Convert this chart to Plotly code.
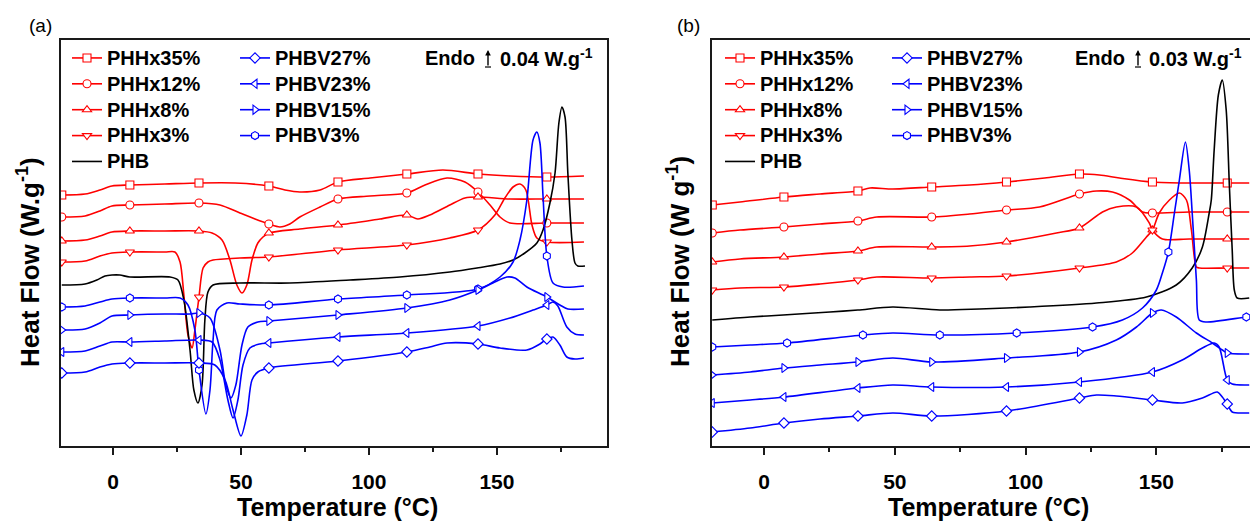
import plotly.graph_objects as go

# ---------------- Panel (a) data: temperature (°C) / heat flow (a.u., stacked, endo up) ----------------
A_MARKS = [-20, 6.6, 33.6, 60.9, 87.9, 114.8, 142.6, 169.5]

A_PHHX35_T = [-20, -10.9, -5.1, -0.4, 6.6, 20.3, 33.6, 47.7, 60.9, 67.2, 73.0, 80.9, 87.9, 100.4, 114.8, 128.9, 142.6, 155.1, 169.5, 184.0]
A_PHHX35_HF = [251, 252, 256, 260, 261, 262, 263, 263, 260, 256, 254, 256, 264, 268, 272, 276, 272, 270, 269, 270]

A_PHHX12_T = [-20, -10.9, -5.1, -0.4, 6.6, 20.3, 33.6, 41.8, 49.6, 55.5, 60.9, 65.2, 69.1, 73.0, 80.9, 87.9, 100.4, 114.8, 121.9, 130.5, 137.5, 142.6, 147.3, 151.2, 155.1, 169.5, 184.0]
A_PHHX12_HF = [229, 230, 235, 240, 241, 242, 243, 241, 233, 227, 222, 219, 222, 229, 239, 247, 250, 253, 261, 268, 264, 254, 241, 229, 223, 223, 223]

A_PHHX8_T = [-20, -10.9, -5.1, -0.4, 6.6, 20.3, 33.6, 38.7, 42.6, 45.7, 48.4, 50.4, 52.3, 54.3, 56.6, 58.6, 60.9, 73.0, 87.9, 104.3, 114.8, 119.1, 123.8, 131.6, 137.5, 142.6, 155.1, 169.5, 184.0]
A_PHHX8_HF = [205, 206, 210, 214, 215, 215, 215, 213, 206, 186, 161, 153, 161, 186, 203, 209, 213, 217, 221, 227, 231, 227, 231, 241, 248, 249, 247, 247, 247]

A_PHHX3_T = [-20, -10.9, -5.1, -0.4, 6.6, 20.3, 24.2, 26.2, 27.7, 29.3, 30.9, 32.0, 33.6, 35.2, 37.1, 39.1, 49.6, 60.9, 87.9, 114.8, 131.6, 142.6, 149.2, 153.1, 156.3, 159.0, 161.3, 163.7, 165.6, 169.5, 184.0]
A_PHHX3_HF = [184, 185, 190, 193, 194, 194, 194, 184, 151, 111, 98, 116, 149, 178, 184, 186, 188, 189, 196, 201, 208, 216, 231, 248, 259, 262, 256, 221, 208, 204, 204]

A_PHB_T = [-20, -10.9, -6.3, -3.1, -0.4, 2.7, 6.6, 22.3, 25.4, 27.7, 30.1, 31.6, 33.2, 34.8, 35.9, 37.1, 39.1, 49.6, 69.1, 92.6, 112.1, 131.6, 142.2, 151.2, 156.3, 160.9, 165.6, 168.0, 170.7, 172.7, 174.2, 175.4, 176.6, 177.7, 179.3, 180.5, 181.6, 184.4]
A_PHB_HF = [161, 162, 166, 170, 171, 171, 169, 169, 166, 146, 96, 56, 43, 61, 126, 154, 161, 163, 163, 166, 169, 174, 178, 182, 186, 193, 203, 216, 243, 273, 323, 339, 329, 273, 206, 183, 180, 180]

A_PHBV3_T = [-20, -10.9, -5.1, -0.4, 6.6, 20.3, 26.2, 29.3, 32.0, 33.6, 36.3, 37.9, 39.1, 40.6, 44.5, 49.6, 60.9, 87.9, 114.8, 142.6, 151.2, 156.3, 159.0, 161.7, 164.1, 165.6, 166.8, 168.0, 169.5, 171.9, 175.8, 184.0]
A_PHBV3_HF = [139, 140, 144, 147, 148, 148, 148, 141, 116, 76, 32, 56, 106, 136, 143, 142, 141, 147, 151, 157, 169, 184, 206, 246, 306, 314, 303, 250, 190, 163, 159, 160]

A_PHBV15_T = [-20, -10.9, -5.1, -0.4, 6.6, 20.3, 30.1, 33.6, 37.9, 41.8, 44.1, 46.1, 48.0, 50.4, 52.7, 56.6, 60.9, 87.9, 114.8, 131.6, 142.6, 148.4, 153.9, 157.0, 161.7, 169.5, 174.6, 177.7, 184.0]
A_PHBV15_HF = [116, 117, 123, 130, 131, 132, 132, 133, 128, 96, 61, 48, 61, 101, 119, 124, 125, 131, 138, 146, 156, 163, 169, 168, 159, 149, 141, 137, 137]

A_PHBV23_T = [-20, -10.9, -5.1, -0.4, 6.6, 20.3, 33.6, 38.7, 41.8, 44.9, 46.9, 48.8, 50.8, 53.5, 57.4, 60.9, 87.9, 114.8, 142.6, 155.1, 164.1, 169.5, 171.9, 173.8, 177.3, 180.5, 184.0]
A_PHBV23_HF = [94, 95, 100, 104, 104, 105, 106, 104, 86, 46, 28, 46, 81, 98, 102, 103, 109, 113, 120, 128, 136, 141, 144, 140, 119, 112, 111]

A_PHBV27_T = [-20, -10.9, -5.1, -0.4, 6.6, 20.3, 33.6, 39.8, 43.8, 46.9, 50.0, 52.3, 54.3, 56.6, 60.9, 87.9, 114.8, 123.8, 130.5, 142.6, 151.2, 161.7, 166.8, 169.5, 171.9, 174.6, 177.3, 180.5, 184.0]
A_PHBV27_HF = [73, 74, 79, 82, 83, 83, 83, 81, 66, 36, 10, 31, 66, 74, 78, 85, 94, 99, 103, 102, 98, 96, 102, 107, 109, 101, 89, 87, 88]

# ---------------- Panel (b) data ----------------
B_MARKS = [-19.8, 7.6, 35.9, 64.1, 92.7, 120.6, 148.5, 177.1]
B_MARKS_PHBV3 = [-19.8, 8.8, 37.8, 67.2, 96.6, 125.6, 154.6, 184.4]

B_PHHX35_T = [-19.8, -9.2, 7.6, 21.4, 35.9, 40.5, 49.2, 64.1, 78.6, 92.7, 107.3, 120.6, 128.2, 135.9, 148.5, 162.6, 177.1, 185.5]
B_PHHX35_HF = [241, 244, 249, 252, 255, 258, 257, 259, 261, 264, 268, 272, 271, 268, 264, 263, 263, 263]

B_PHHX12_T = [-19.8, -9.2, 7.6, 21.4, 35.9, 43.1, 64.1, 78.6, 92.7, 105.3, 120.6, 127.1, 133.2, 139.7, 144.7, 148.5, 162.6, 177.1, 185.5]
B_PHHX12_HF = [213, 216, 219, 222, 225, 229, 229, 232, 236, 239, 252, 255, 254, 246, 234, 233, 234, 234, 234]

B_PHHX8_T = [-19.8, -9.2, 7.6, 21.4, 35.9, 43.1, 64.1, 78.6, 92.7, 111.8, 120.6, 129.4, 134.7, 142.4, 147.3, 148.5, 152.3, 162.6, 177.1, 185.5]
B_PHHX8_HF = [184, 187, 189, 192, 195, 199, 199, 200, 204, 213, 218, 234, 239, 239, 223, 216, 207, 207, 207, 207]

B_PHHX3_T = [-19.8, -9.2, 7.6, 21.4, 35.9, 43.1, 64.1, 78.6, 92.7, 120.6, 134.7, 140.8, 146.2, 148.5, 151.1, 155.0, 158.8, 161.5, 163.4, 165.3, 166.4, 177.1, 185.5]
B_PHHX3_HF = [156, 158, 159, 162, 166, 169, 168, 169, 170, 178, 184, 193, 209, 216, 233, 246, 253, 246, 216, 179, 178, 178, 178]

B_PHB_T = [-19.8, -5.3, 7.3, 25.2, 35.9, 49.2, 67.2, 82.4, 101.5, 127.1, 146.2, 157.6, 163.7, 167.6, 170.2, 171.0, 172.1, 173.7, 175.2, 176.7, 177.9, 179.0, 179.8, 180.9, 185.5]
B_PHB_HF = [126, 129, 131, 134, 136, 139, 136, 137, 139, 143, 149, 161, 178, 199, 233, 246, 296, 351, 366, 336, 261, 196, 156, 148, 148]

B_PHBV3_T = [-19.8, -5.3, 8.8, 37.8, 49.2, 67.2, 96.6, 125.6, 137.0, 144.7, 150.0, 152.3, 154.6, 156.9, 158.8, 161.1, 162.6, 163.7, 165.3, 166.4, 169.1, 184.4, 185.5]
B_PHBV3_HF = [99, 101, 103, 111, 113, 111, 113, 119, 126, 138, 156, 173, 194, 233, 266, 304, 275, 233, 166, 126, 124, 129, 129]

B_PHBV15_T = [-19.8, -5.3, 7.6, 21.4, 35.9, 49.2, 64.1, 92.7, 120.6, 134.7, 142.4, 148.5, 151.9, 157.6, 165.3, 171.4, 175.2, 177.1, 184.4, 185.5]
B_PHBV15_HF = [71, 74, 78, 81, 84, 88, 84, 88, 94, 106, 119, 133, 136, 129, 113, 103, 96, 93, 92, 92]

B_PHBV23_T = [-19.8, -5.3, 7.6, 35.9, 49.2, 64.1, 92.7, 120.6, 148.5, 159.9, 167.6, 172.1, 174.0, 177.1, 179.0, 184.4, 185.5]
B_PHBV23_HF = [43, 46, 49, 58, 61, 59, 59, 64, 74, 86, 98, 103, 99, 66, 62, 61, 61]

B_PHBV27_T = [-19.8, -5.3, 7.6, 21.4, 35.9, 49.2, 64.1, 92.7, 120.6, 127.1, 134.7, 148.5, 159.9, 167.6, 173.3, 175.2, 177.1, 179.0, 184.4, 185.5]
B_PHBV27_HF = [14, 18, 23, 27, 30, 33, 30, 35, 48, 51, 50, 46, 43, 48, 54, 49, 42, 34, 33, 33]

# legend labels
PHHX_NAMES = ["PHHx35%", "PHHx12%", "PHHx8%", "PHHx3%", "PHB"]
PHBV_NAMES = ["PHBV27%", "PHBV23%", "PHBV15%", "PHBV3%"]
X_TICKS = [0, 50, 100, 150]

RED = "#FF0000"
BLUE = "#0000FF"
BLACK = "#000000"
FONT = "Liberation Sans, Arial, sans-serif"

STYLE = {
    "PHHx35%": (RED, "square"),
    "PHHx12%": (RED, "circle"),
    "PHHx8%": (RED, "triangle-up"),
    "PHHx3%": (RED, "triangle-down"),
    "PHB": (BLACK, None),
    "PHBV27%": (BLUE, "diamond"),
    "PHBV23%": (BLUE, "triangle-left"),
    "PHBV15%": (BLUE, "triangle-right"),
    "PHBV3%": (BLUE, "hexagon"),
}

fig = go.Figure()


def add_curve(name, T, HF, marks, xa, ya):
    color, symbol = STYLE[name]
    fig.add_trace(go.Scatter(
        x=T, y=HF, mode="lines", xaxis=xa, yaxis=ya, showlegend=False,
        line=dict(color=color, width=1.6, shape="spline", smoothing=0.8),
        hoverinfo="skip"))
    if symbol and marks:
        mk = set(marks)
        mx = [t for t in T if t in mk]
        my = [h for t, h in zip(T, HF) if t in mk]
        fig.add_trace(go.Scatter(
            x=mx, y=my, mode="markers", xaxis=xa, yaxis=ya, showlegend=False,
            marker=dict(symbol=symbol, size=8, color="white",
                        line=dict(color=color, width=1.1)),
            hoverinfo="skip"))


panel_a = [
    ("PHHx35%", A_PHHX35_T, A_PHHX35_HF, A_MARKS),
    ("PHHx12%", A_PHHX12_T, A_PHHX12_HF, A_MARKS),
    ("PHHx8%", A_PHHX8_T, A_PHHX8_HF, A_MARKS),
    ("PHHx3%", A_PHHX3_T, A_PHHX3_HF, A_MARKS),
    ("PHB", A_PHB_T, A_PHB_HF, None),
    ("PHBV3%", A_PHBV3_T, A_PHBV3_HF, A_MARKS),
    ("PHBV15%", A_PHBV15_T, A_PHBV15_HF, A_MARKS),
    ("PHBV23%", A_PHBV23_T, A_PHBV23_HF, A_MARKS),
    ("PHBV27%", A_PHBV27_T, A_PHBV27_HF, A_MARKS),
]
panel_b = [
    ("PHHx35%", B_PHHX35_T, B_PHHX35_HF, B_MARKS),
    ("PHHx12%", B_PHHX12_T, B_PHHX12_HF, B_MARKS),
    ("PHHx8%", B_PHHX8_T, B_PHHX8_HF, B_MARKS),
    ("PHHx3%", B_PHHX3_T, B_PHHX3_HF, B_MARKS),
    ("PHB", B_PHB_T, B_PHB_HF, None),
    ("PHBV3%", B_PHBV3_T, B_PHBV3_HF, B_MARKS_PHBV3),
    ("PHBV15%", B_PHBV15_T, B_PHBV15_HF, B_MARKS),
    ("PHBV23%", B_PHBV23_T, B_PHBV23_HF, B_MARKS),
    ("PHBV27%", B_PHBV27_T, B_PHBV27_HF, B_MARKS),
]
for name, T, HF, mk in panel_a:
    add_curve(name, T, HF, mk, "x", "y")
for name, T, HF, mk in panel_b:
    add_curve(name, T, HF, mk, "x2", "y2")

# legend entries (4 columns of legends: 2 per panel)
# Legend font size sets the row pitch (~26 px); the label itself is drawn at 20 px.
def add_legend_entry(name, legend_id, xa, ya):
    color, symbol = STYLE[name]
    mode = "lines+markers" if symbol else "lines"
    fig.add_trace(go.Scatter(
        x=[None], y=[None], mode=mode,
        name='<span style="font-size:20px">' + name + "</span>",
        legend=legend_id, xaxis=xa, yaxis=ya,
        line=dict(color=color, width=1.6),
        marker=dict(symbol=symbol or "circle", size=8, color="white",
                    line=dict(color=color, width=1.1))))

for n in PHHX_NAMES:
    add_legend_entry(n, "legend", "x", "y")
for n in PHBV_NAMES:
    add_legend_entry(n, "legend2", "x", "y")
for n in PHHX_NAMES:
    add_legend_entry(n, "legend3", "x2", "y2")
for n in PHBV_NAMES:
    add_legend_entry(n, "legend4", "x2", "y2")

W, H = 1250, 522
T_M, B_M = 40, 76
PH = H - T_M - B_M


def px(xp):
    return xp / W


def py(yp):
    return (H - B_M - yp) / PH


leg_font = dict(family=FONT, size=17.6, color="black", weight="bold")
leg_common = dict(yanchor="top", y=1.0, xanchor="left", bgcolor="rgba(0,0,0,0)",
                  font=leg_font, tracegroupgap=0, itemwidth=30, borderwidth=0,
                  orientation="v")

axis_common = dict(showgrid=False, zeroline=False, showline=True, linecolor="#1a1a1a",
                   linewidth=2)
xcommon = dict(axis_common, tickmode="array", tickvals=X_TICKS, ticks="outside",
               ticklen=7, tickwidth=1.5, tickcolor="#1a1a1a", ticklabelstandoff=9,
               tickfont=dict(family=FONT, size=21, color="black", weight="bold"),
               minor=dict(dtick=25, tick0=0, ticks="outside", ticklen=4,
                          tickwidth=1.5, tickcolor="#1a1a1a", showgrid=False))
ycommon = dict(axis_common, showticklabels=False, ticks="", range=[0, PH])

fig.update_layout(
    width=W, height=H,
    margin=dict(l=0, r=0, t=T_M, b=B_M, pad=0),
    paper_bgcolor="white", plot_bgcolor="white",
    showlegend=True,
    xaxis=dict(xcommon, domain=[px(60.5), px(607)], range=[-20.5, 193], mirror=True, anchor="y"),
    yaxis=dict(ycommon, domain=[0, 1], mirror=True, anchor="x"),
    xaxis2=dict(xcommon, domain=[px(712), 1.0], range=[-19.9, 185.8], mirror=True, anchor="y2"),
    yaxis2=dict(ycommon, domain=[0, 1], mirror=False, anchor="x2"),
    legend=dict(leg_common, x=px(67)),
    legend2=dict(leg_common, x=px(235)),
    legend3=dict(leg_common, x=px(720)),
    legend4=dict(leg_common, x=px(887)),
)

ann = []
title_font = dict(family=FONT, size=25, color="black", weight="bold")
txt_font = dict(family=FONT, size=20, color="black", weight="bold")
# panel labels
ann.append(dict(text="(a)", x=px(27), y=py(25), xref="paper", yref="paper",
                xanchor="left", yanchor="middle", showarrow=False,
                font=dict(family=FONT, size=19, color="black")))
ann.append(dict(text="(b)", x=px(675), y=py(25), xref="paper", yref="paper",
                xanchor="left", yanchor="middle", showarrow=False,
                font=dict(family=FONT, size=19, color="black")))
# axis titles
ann.append(dict(text="Temperature (°C)", x=px(337), y=py(507), xref="paper", yref="paper",
                xanchor="center", yanchor="middle", showarrow=False, font=title_font))
ann.append(dict(text="Temperature (°C)", x=px(988), y=py(507), xref="paper", yref="paper",
                xanchor="center", yanchor="middle", showarrow=False, font=title_font))
ann.append(dict(text="Heat Flow (W.g<sup>-1</sup>)", x=px(28), y=py(262), xref="paper", yref="paper",
                xanchor="center", yanchor="middle", textangle=-90, showarrow=False,
                font=dict(title_font, size=26)))
ann.append(dict(text="Heat Flow (W g<sup>-1</sup>)", x=px(678), y=py(262), xref="paper", yref="paper",
                xanchor="center", yanchor="middle", textangle=-90, showarrow=False,
                font=dict(title_font, size=26)))
# Endo scale annotations
for endo_right, arrow_x, val_left, val in [(477, 488, 498, "0.04"), (1127, 1138, 1147, "0.03")]:
    ann.append(dict(text="Endo", x=px(endo_right), y=py(58), xref="paper", yref="paper",
                    xanchor="right", yanchor="middle", showarrow=False, font=txt_font))
    ann.append(dict(text=val + " W.g<sup>-1</sup>", x=px(val_left), y=py(58), xref="paper", yref="paper",
                    xanchor="left", yanchor="middle", showarrow=False, font=txt_font))
    ann.append(dict(text="", x=px(arrow_x), y=py(50), xref="paper", yref="paper",
                    ax=0, ay=17, showarrow=True, arrowhead=2, arrowsize=0.8,
                    arrowwidth=1.4, arrowcolor="black"))
fig.update_layout(annotations=ann)

shapes = []
for arrow_x in [488, 1138]:
    shapes.append(dict(type="line", xref="paper", yref="paper",
                       x0=px(arrow_x - 3), x1=px(arrow_x + 3), y0=py(67), y1=py(67),
                       line=dict(color="black", width=1.2)))
fig.update_layout(shapes=shapes)

fig.write_html("out.html")
